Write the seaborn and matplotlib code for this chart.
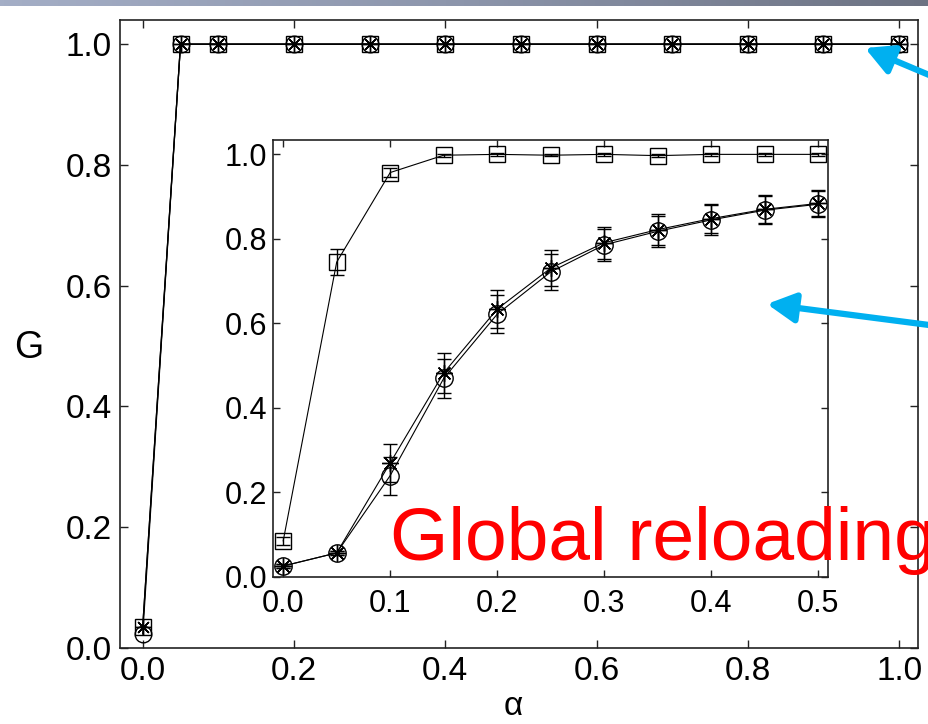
import numpy as np
import matplotlib
matplotlib.use("Agg")
import matplotlib.pyplot as plt
import seaborn as sns
from matplotlib.patches import FancyArrowPatch
from matplotlib.colors import LinearSegmentedColormap

# ---------------- data ----------------
alpha_main = [0.0, 0.05, 0.1, 0.2, 0.3, 0.4, 0.5, 0.6, 0.7, 0.8, 0.9, 1.0]
g_main_sq = [0.035, 1.0, 1.0, 1.0, 1.0, 1.0, 1.0, 1.0, 1.0, 1.0, 1.0, 1.0]
g_main_circ = [0.023, 1.0, 1.0, 1.0, 1.0, 1.0, 1.0, 1.0, 1.0, 1.0, 1.0, 1.0]
g_main_star = [0.035, 1.0, 1.0, 1.0, 1.0, 1.0, 1.0, 1.0, 1.0, 1.0, 1.0, 1.0]

alpha_in = [0.0, 0.05, 0.1, 0.15, 0.2, 0.25, 0.3, 0.35, 0.4, 0.45, 0.5]
g_in_sq = [0.085, 0.745, 0.957, 0.998, 1.0, 0.998, 1.0, 0.997, 1.0, 1.0, 1.0]
g_in_sq_err = [0.01, 0.03, 0.01, 0.004, 0.003, 0.003, 0.003, 0.003, 0.003, 0.003, 0.003]
g_in_circ = [0.026, 0.057, 0.24, 0.47, 0.622, 0.722, 0.786, 0.818, 0.845, 0.868, 0.882]
g_in_star = [0.026, 0.057, 0.27, 0.483, 0.634, 0.731, 0.791, 0.822, 0.848, 0.870, 0.884]
g_in_err = [0.005, 0.005, 0.045, 0.047, 0.045, 0.043, 0.038, 0.037, 0.035, 0.033, 0.031]

main_ticks = [0.0, 0.2, 0.4, 0.6, 0.8, 1.0]
inset_xticks = [0.0, 0.1, 0.2, 0.3, 0.4, 0.5]
inset_yticks = [0.0, 0.2, 0.4, 0.6, 0.8, 1.0]

# ---------------- style ----------------
sns.set_theme(style="ticks")
plt.rcParams["font.family"] = ["Liberation Sans", "DejaVu Sans"]
plt.rcParams["axes.linewidth"] = 1.2
plt.rcParams["xtick.direction"] = "in"
plt.rcParams["ytick.direction"] = "in"
plt.rcParams["text.color"] = "black"
plt.rcParams["axes.labelcolor"] = "black"
plt.rcParams["xtick.labelcolor"] = "black"
plt.rcParams["ytick.labelcolor"] = "black"

W, H = 929, 724
fig = plt.figure(figsize=(W / 100, H / 100), dpi=100)
fig.patch.set_facecolor("white")


def fr(x0, y0, x1, y1):
    return [x0 / W, 1 - y1 / H, (x1 - x0) / W, (y1 - y0) / H]


# top gradient bar
bar = fig.add_axes(fr(0, 0, W, 6))
grad = np.linspace(0, 1, 256)[None, :]
cm = LinearSegmentedColormap.from_list("g", ["#a4aec6", "#8c95ab", "#6c7282"])
bar.imshow(grad, aspect="auto", cmap=cm, extent=[0, 1, 0, 1])
bar.set_axis_off()

# ---------------- main axes ----------------
ax = fig.add_axes(fr(120, 20, 918, 648))
line_kw = dict(color="black", linewidth=0.9, markerfacecolor="none",
               markeredgecolor="black", markeredgewidth=1.0)
sns.lineplot(x=alpha_main, y=g_main_sq, marker="s", markersize=11, ax=ax, **line_kw)
sns.lineplot(x=alpha_main, y=g_main_circ, marker="o", markersize=12, ax=ax, **line_kw)
sns.lineplot(x=alpha_main, y=g_main_star, marker=(8, 2, 0), markersize=11, ax=ax, **line_kw)
ax.set_xlim(-0.03, 1.025)
ax.set_ylim(0.0, 1.04)
ax.set_xticks(main_ticks)
ax.set_yticks(main_ticks)
ax.set_xticklabels([f"{t:.1f}" for t in main_ticks])
ax.set_yticklabels([f"{t:.1f}" for t in main_ticks])
ax.tick_params(axis="both", which="major", labelsize=24, length=6, width=1.0,
               top=True, right=True, pad=6, colors="#222222", labelcolor="black")
for s in ax.spines.values():
    s.set_visible(True)
    s.set_color("#222222")
ax.set_xlabel("α", fontsize=24, va="center")
ax.set_ylabel("G", fontsize=27, rotation=0, va="center", ha="center")
ax.xaxis.set_label_coords(0.4925, -0.093)
ax.yaxis.set_label_coords(-0.115, 0.477)

# ---------------- inset axes ----------------
ins = fig.add_axes(fr(273, 140, 828, 577))
ins.set_facecolor("white")
thin = dict(color="black", linewidth=0.8, markerfacecolor="none",
            markeredgecolor="black", markeredgewidth=1.0)
sns.lineplot(x=alpha_in, y=g_in_sq, marker="s", markersize=11, ax=ins, **thin)
sns.lineplot(x=alpha_in, y=g_in_circ, marker="o", markersize=12.5, ax=ins, **thin)
sns.lineplot(x=alpha_in, y=g_in_star, marker=(8, 2, 0), markersize=12, ax=ins, **thin)
ins.errorbar(alpha_in, g_in_sq, yerr=g_in_sq_err, fmt="none", ecolor="black",
             elinewidth=1.0, capsize=5, capthick=1.0)
ins.errorbar(alpha_in, g_in_circ, yerr=g_in_err, fmt="none", ecolor="black",
             elinewidth=1.0, capsize=5, capthick=1.0)
ins.errorbar(alpha_in, g_in_star, yerr=g_in_err, fmt="none", ecolor="black",
             elinewidth=1.0, capsize=5, capthick=1.0)
ins.set_xlim(-0.0095, 0.509)
ins.set_ylim(0.0, 1.034)
ins.set_xticks(inset_xticks)
ins.set_yticks(inset_yticks)
ins.set_xticklabels([f"{t:.1f}" for t in inset_xticks])
ins.set_yticklabels([f"{t:.1f}" for t in inset_yticks])
ins.tick_params(axis="both", which="major", labelsize=22, length=5, width=1.0,
                top=True, right=True, colors="#222222", labelcolor="black")
ins.tick_params(axis="x", pad=9)
ins.tick_params(axis="y", pad=4)
for s in ins.spines.values():
    s.set_visible(True)
    s.set_color("#222222")
ins.set_xlabel("")
ins.set_ylabel("")

# ---------------- annotations ----------------
fig.text(390 / W, 1 - 560 / H, "Global reloading", color="#ff0000",
         fontsize=54, ha="left", va="baseline")

cyan = "#00b0f0"
for (x0, y0), (x1, y1) in [((960, 88), (865, 48)), ((960, 329), (767, 304))]:
    arr = FancyArrowPatch((x0 / W, 1 - y0 / H), (x1 / W, 1 - y1 / H),
                          transform=fig.transFigure,
                          arrowstyle="-|>,head_length=0.85,head_width=0.45",
                          mutation_scale=20, linewidth=4.5, color=cyan,
                          shrinkA=0, shrinkB=0)
    fig.add_artist(arr)

fig.savefig("out.png", dpi=100)
